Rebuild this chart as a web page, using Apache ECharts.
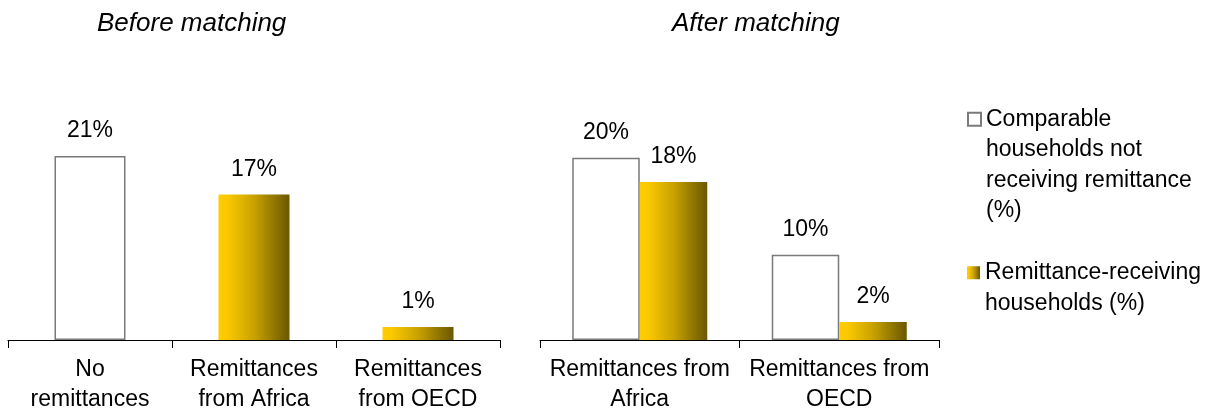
<!DOCTYPE html>
<html>
<head>
<meta charset="utf-8">
<script src="https://cdn.jsdelivr.net/npm/echarts@6/dist/echarts.min.js"></script>
<style>
html,body{margin:0;padding:0;background:#fff;}
#chart{width:1225px;height:415px;}
</style>
</head>
<body>
<div id="chart"></div>
<script>
// ---- data ----
const panelTitles = ['Before matching', 'After matching'];
const beforeCategories = ['No\nremittances', 'Remittances\nfrom Africa', 'Remittances\nfrom OECD'];
const afterCategories = ['Remittances from\nAfrica', 'Remittances from\nOECD'];
const seriesNames = ['Comparable households not receiving remittance (%)', 'Remittance-receiving households (%)'];
const legendLabels = [['Comparable', 'households not', 'receiving remittance', '(%)'], ['Remittance-receiving', 'households (%)']];
const beforeNonRecipients = [21.0, '-', '-'];
const beforeRecipients = ['-', 16.6, 1.49];
const afterNonRecipients = [20.45, 9.58];
const afterRecipients = [17.73, 2.01];

const FONT = '"Liberation Sans", Arial, sans-serif';
const gold = {
  type: 'linear', x: 0, y: 0, x2: 1, y2: 0,
  colorStops: [
    {offset: 0, color: '#FFCC00'},
    {offset: 0.12, color: '#FCC900'},
    {offset: 0.5, color: '#C9A200'},
    {offset: 0.8, color: '#8F7400'},
    {offset: 1, color: '#6B5700'}
  ]
};
const whiteStyle = {color: '#ffffff', borderColor: '#7a7a7a', borderWidth: 1.5};
const goldStyle = {color: gold};
const labelCfg = {
  show: true, position: 'top', distance: 10, color: '#000',
  fontFamily: FONT, fontSize: 23, lineHeight: 30,
  formatter: p => Math.round(p.value) + '%'
};
function xAxis(idx, cats) {
  return {
    type: 'category', gridIndex: idx, data: cats,
    axisLine: {lineStyle: {color: '#000', width: 1}},
    axisTick: {show: true, length: 8, lineStyle: {color: '#000'}},
    axisLabel: {interval: 0, margin: 14, color: '#000', fontFamily: FONT, fontSize: 23, lineHeight: 30.5}
  };
}
function yAxis(idx) {
  return {type: 'value', gridIndex: idx, min: 0, max: 25, show: false, splitLine: {show: false}};
}
const legendText = {color: '#000', fontFamily: FONT, fontSize: 23, lineHeight: 30.5};
// pad with leading blank lines so that the first text line sits level with the icon
function legendLabel(lines) {
  const pad = lines.length - 1;
  return '\n'.repeat(pad) + lines.join('\n');
}

const option = {
  animation: false,
  backgroundColor: '#fff',
  title: [
    {text: panelTitles[0], left: 97, top: 9, padding: 0,
     textStyle: {fontFamily: FONT, fontStyle: 'italic', fontWeight: 'normal', fontSize: 26, lineHeight: 30, color: '#000'}},
    {text: panelTitles[1], left: 672, top: 9, padding: 0,
     textStyle: {fontFamily: FONT, fontStyle: 'italic', fontWeight: 'normal', fontSize: 26, lineHeight: 30, color: '#000'}}
  ],
  legend: [
    {orient: 'vertical', left: 967, top: 12.5, padding: 0, itemWidth: 13, itemHeight: 13, selectedMode: false,
     icon: 'rect', data: [seriesNames[0]],
     formatter: () => legendLabel(legendLabels[0]), textStyle: legendText},
    {orient: 'vertical', left: 967, top: 227, padding: 0, itemWidth: 13, itemHeight: 13, selectedMode: false,
     icon: 'rect', data: [seriesNames[1]],
     formatter: () => legendLabel(legendLabels[1]), textStyle: legendText}
  ],
  grid: [
    {left: 8, width: 492, top: 121, bottom: 74},
    {left: 540, width: 399, top: 117.25, bottom: 74}
  ],
  xAxis: [xAxis(0, beforeCategories), xAxis(1, afterCategories)],
  yAxis: [yAxis(0), yAxis(1)],
  series: [
    {type: 'bar', name: seriesNames[0], xAxisIndex: 0, yAxisIndex: 0, data: beforeNonRecipients,
     barWidth: 71, barGap: '-100%', itemStyle: whiteStyle, label: labelCfg},
    {type: 'bar', name: seriesNames[1], xAxisIndex: 0, yAxisIndex: 0, data: beforeRecipients,
     barWidth: 71, barGap: '-100%', itemStyle: goldStyle, label: labelCfg},
    {type: 'bar', name: seriesNames[0], xAxisIndex: 1, yAxisIndex: 1, data: afterNonRecipients,
     barWidth: 67.5, barGap: '0%', itemStyle: whiteStyle, label: labelCfg},
    {type: 'bar', name: seriesNames[1], xAxisIndex: 1, yAxisIndex: 1, data: afterRecipients,
     barWidth: 67.5, barGap: '0%', itemStyle: goldStyle, label: labelCfg}
  ]
};
const chart = echarts.init(document.getElementById('chart'), null, {renderer: 'canvas'});
chart.setOption(option);
</script>
</body>
</html>
